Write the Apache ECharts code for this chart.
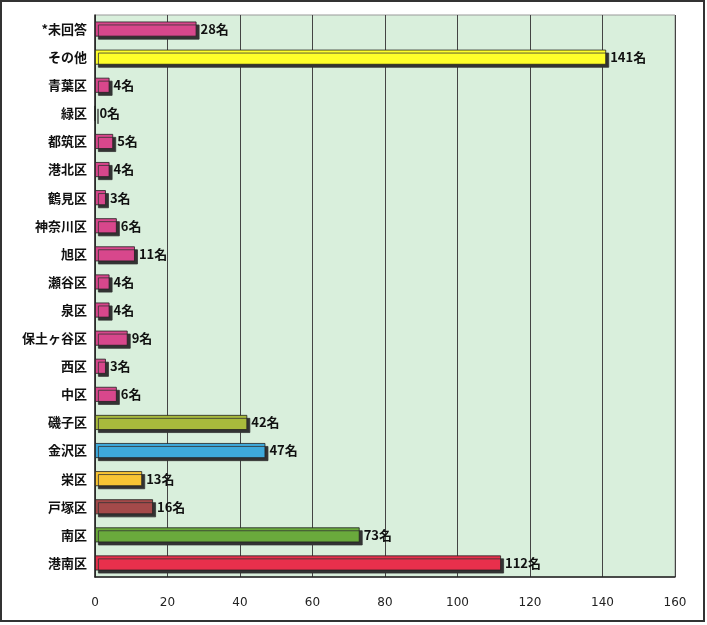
<!DOCTYPE html>
<html>
<head>
<meta charset="utf-8">
<script src="https://cdn.jsdelivr.net/npm/echarts@6/dist/echarts.min.js"></script>
<style>
html,body{margin:0;padding:0;background:#fff;}
#c{width:707px;height:625px;}
</style>
</head>
<body>
<div id="c"></div>
<script>
const categories = ['港南区','南区','戸塚区','栄区','金沢区','磯子区','中区','西区','保土ヶ谷区','泉区','瀬谷区','旭区','神奈川区','鶴見区','港北区','都筑区','緑区','青葉区','その他','*未回答'];
const values = [112,73,16,13,47,42,6,3,9,4,4,11,6,3,4,5,0,4,141,28];
const barColors = ['#e8304c','#6aaa3c','#a44a4a','#f8c434','#3eaadc','#a8ba3c','#d8478c','#d8478c','#d8478c','#d8478c','#d8478c','#d8478c','#d8478c','#d8478c','#d8478c','#d8478c','#d8478c','#d8478c','#ffff2a','#d8478c'];
const xTicks = [0,20,40,60,80,100,120,140,160];

const chart = echarts.init(document.getElementById('c'));
chart.setOption({
  animation:false,
  textStyle:{fontFamily:'"Noto Sans CJK JP", sans-serif'},
  graphic:[{type:'rect',shape:{x:1,y:1,width:703,height:620},style:{fill:'none',stroke:'#333',lineWidth:2},z:-1}],
  grid:{left:95,right:32,top:15,bottom:48,show:true,backgroundColor:'#d9efdc',borderColor:'#999',borderWidth:1},
  xAxis:{type:'value',min:0,max:160,interval:20,
    axisLine:{show:true,lineStyle:{color:'#222',width:1.5}},
    axisTick:{show:false},
    axisLabel:{color:'#222',fontSize:12,margin:20,fontFamily:'"DejaVu Sans", sans-serif',formatter:v=>xTicks.includes(v)?String(v):''},
    splitLine:{show:true,lineStyle:{color:'#444',width:1}}},
  yAxis:{type:'category',data:categories,
    axisLine:{show:true,lineStyle:{color:'#222',width:1.5}},
    axisTick:{show:false},
    axisLabel:{color:'#111',fontSize:13,fontWeight:'bold',margin:8}},
  series:[{type:'bar',barWidth:15,
    data:values.map((v,i)=>({value:v,itemStyle:{color:barColors[i]}})),
    itemStyle:{borderColor:'#222',borderWidth:0.8,shadowColor:'#333',shadowOffsetX:3,shadowOffsetY:3,shadowBlur:0},
    label:{show:true,position:'right',distance:4,formatter:p=>p.value+'名',color:'#111',fontSize:13,fontWeight:'bold'}}]
});
</script>
</body>
</html>
